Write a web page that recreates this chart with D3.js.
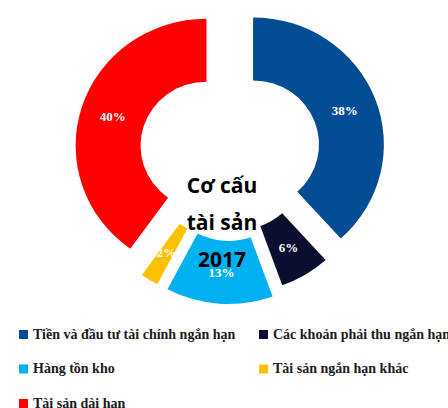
<!DOCTYPE html>
<html>
<head>
<meta charset="utf-8">
<script src="https://cdnjs.cloudflare.com/ajax/libs/d3/7.8.5/d3.min.js"></script>
<style>
	body { margin: 0; background: #fff; }
	#chart-area svg { display: block; }
</style>
</head>
<body>
<div id="chart-area"></div>
<script>

// DATA
var categories = ['Tiền và đầu tư tài chính ngắn hạn', 'Các khoản phải thu ngắn hạn', 'Hàng tồn kho', 'Tài sản ngắn hạn khác', 'Tài sản dài hạn']
var shares = [38.3, 6.2, 13.2, 2.2, 40.1]
var colors = ['#044D95', '#0C0E2F', '#00B0F0', '#FFC000', '#FF0000']
var titleLines = ['Cơ cấu', 'tài sản', '2017']

// how far each slice is pulled out of the ring
var explode = [24, 15, 24, 22, 24]

var width = 448
var height = 408

var svg = d3.select('#chart-area').append('svg')
	.attr('width', width)
	.attr('height', height)

// centre of the doughnut, the picture is a bit wider than tall
var cx = 230, cy = 153
var stretch = 1.03
var outerR = 127
var innerR = 64

var pie = d3.pie()
	.sort(null)
	.value(function(d){ return d })

var arcs = pie(shares)

var arc = d3.arc()
	.innerRadius(innerR)
	.outerRadius(outerR)

var labelArc = d3.arc()
	.innerRadius((innerR + outerR) / 2)
	.outerRadius((innerR + outerR) / 2)

function offset(d, i){
	var a = (d.startAngle + d.endAngle) / 2
	return [Math.sin(a) * explode[i], -Math.cos(a) * explode[i]]
}

// slices
var ring = svg.append('g')
	.attr('transform', 'translate(' + cx + ',' + cy + ') scale(' + stretch + ',1)')

ring.selectAll('path')
	.data(arcs)
	.enter()
	.append('path')
	.attr('transform', function(d, i){ var o = offset(d, i); return 'translate(' + o[0] + ',' + o[1] + ')' })
	.attr('d', arc)
	.attr('fill', function(d, i){ return colors[i] })

// percentage labels
var fmt = d3.format('.0f')
svg.append('g')
	.attr('transform', 'translate(' + cx + ',' + cy + ')')
	.selectAll('text')
	.data(arcs)
	.enter()
	.append('text')
	.attr('x', function(d, i){ return (labelArc.centroid(d)[0] + offset(d, i)[0]) * stretch })
	.attr('y', function(d, i){ return labelArc.centroid(d)[1] + offset(d, i)[1] })
	.attr('text-anchor', 'middle')
	.attr('dominant-baseline', 'central')
	.attr('font-family', '"Liberation Serif", "Times New Roman", serif')
	.attr('font-weight', 'bold')
	.attr('font-size', '13px')
	.attr('fill', '#fff')
	.text(function(d){ return fmt(d.data) + '%' })

// title inside the hole
svg.append('g')
	.selectAll('text')
	.data(titleLines)
	.enter()
	.append('text')
	.attr('x', cx - 8)
	.attr('y', function(d, i){ return 193 + i * 37 })
	.attr('text-anchor', 'middle')
	.attr('font-family', '"Open Sans", "Noto Sans", sans-serif')
	.attr('font-weight', 'bold')
	.attr('font-size', '21px')
	.attr('fill', '#000')
	.text(function(d){ return d })

// LEGEND, two columns
var legend = svg.append('g')

var item = legend.selectAll('g')
	.data(categories)
	.enter()
	.append('g')
	.attr('transform', function(d, i){
		var col = i % 2, row = Math.floor(i / 2)
		return 'translate(' + (19 + col * 240) + ',' + (334 + row * 34.5) + ')'
	})

item.append('rect')
	.attr('x', 0)
	.attr('y', -4)
	.attr('width', 9)
	.attr('height', 9)
	.attr('fill', function(d, i){ return colors[i] })

item.append('text')
	.attr('x', 14)
	.attr('y', 0)
	.attr('dominant-baseline', 'central')
	.attr('font-family', '"Liberation Serif", "Times New Roman", serif')
	.attr('font-weight', 'bold')
	.attr('font-size', '14px')
	.attr('fill', '#1a1a1a')
	.text(function(d){ return d })

</script>
</body>
</html>
